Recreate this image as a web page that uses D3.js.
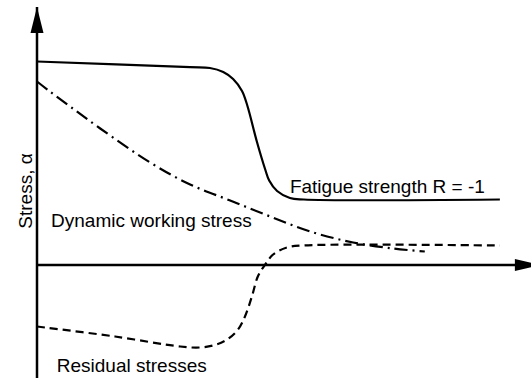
<!DOCTYPE html>
<html>
<head>
<meta charset="utf-8">
<script src="https://cdn.jsdelivr.net/npm/d3@7"></script>
<style>
  html, body { margin: 0; padding: 0; background: #fff; }
  svg { display: block; }
  text { font-family: "Liberation Sans", Arial, sans-serif; fill: #000; }
</style>
</head>
<body>
<div id="chart"></div>
<script>
// Schematic curves: position along the part (x) against stress (y), arbitrary units.
const fatigueStrength = [
  [0, 101.75], [31, 98.9], [35, 98.5], [37.7, 96.5], [39.7, 93],
  [41.5, 87], [42.6, 79.5], [44.5, 61.75], [46.2, 47.75], [47, 42.25],
  [48.6, 37], [51.2, 33.5], [54, 32.75], [93.7, 32.75]
];
const workingStress = [
  [0, 91.75], [2.6, 86.75], [6.7, 79.25], [12.8, 68.25], [22.9, 51.25],
  [31, 40.25], [39.1, 32.25], [47.2, 24.25], [55.3, 16.75], [64, 11.25],
  [72.1, 8.25], [78.5, 6.75]
];
const residualStress = [
  [0, -30.75], [15.8, -35.75], [29, -40.75], [33, -41.25], [36, -40],
  [38.5, -37.25], [40.7, -32.25], [42.1, -25.75], [43.5, -15.75], [44.7, -5.75],
  [46.2, 0.25], [47.8, 5.25], [50.6, 8.75], [54, 9.8], [93.7, 9.75]
];
const curveLabels = ["Fatigue strength R = -1", "Dynamic working stress", "Residual stresses"];
const yAxisLabel = "Stress, \u03b1";

const W = 531, H = 378;
const svg = d3.select("#chart").append("svg").attr("width", W).attr("height", H);

const x = d3.scaleLinear().domain([0, 100]).range([37, 531]);
const y = d3.scaleLinear().domain([-56.5, 129]).range([378, 7]);

// Axes as plain lines through the origin, with filled arrowheads
const xAxis = svg.append("g")
  .attr("transform", `translate(0,${y(0)})`)
  .call(d3.axisBottom(x).ticks(0).tickSize(0).tickSizeOuter(0).offset(0));
xAxis.select(".domain").attr("stroke", "#000").attr("stroke-width", 2.5);
xAxis.selectAll("text").remove();

const yAxis = svg.append("g")
  .attr("transform", `translate(${x(0)},0)`)
  .call(d3.axisLeft(y).ticks(0).tickSize(0).tickSizeOuter(0).offset(0));
yAxis.select(".domain").attr("stroke", "#000").attr("stroke-width", 2.5);
yAxis.selectAll("text").remove();

// y arrow
const ax = x(0), ayTip = y(129);
svg.append("path")
  .attr("d", `M${ax},${ayTip} L${ax - 6.5},${ayTip + 26} L${ax + 6.5},${ayTip + 26} Z`)
  .attr("fill", "#000");
// x arrow (tip runs past the right edge)
const axTipX = x(102), ay0 = y(0);
svg.append("path")
  .attr("d", `M${axTipX},${ay0} L${axTipX - 26},${ay0 - 6} L${axTipX - 26},${ay0 + 6} Z`)
  .attr("fill", "#000");

const line = d3.line()
  .x(d => x(d[0]))
  .y(d => y(d[1]))
  .curve(d3.curveCatmullRom.alpha(0.5));

svg.append("path").datum(fatigueStrength)
  .attr("d", line).attr("fill", "none")
  .attr("stroke", "#000").attr("stroke-width", 2.2);

svg.append("path").datum(workingStress)
  .attr("d", line).attr("fill", "none")
  .attr("stroke", "#000").attr("stroke-width", 2.2)
  .attr("stroke-dasharray", "13,5,2,5");

svg.append("path").datum(residualStress)
  .attr("d", line).attr("fill", "none")
  .attr("stroke", "#000").attr("stroke-width", 2.2)
  .attr("stroke-dasharray", "8,5");

// Curve labels
const labelPos = [[51.2, 36], [2.85, 19], [4, -53.5]];
svg.selectAll("text.curve-label")
  .data(curveLabels)
  .join("text")
  .attr("class", "curve-label")
  .attr("x", (d, i) => x(labelPos[i][0]))
  .attr("y", (d, i) => y(labelPos[i][1]))
  .attr("font-size", 19)
  .text(d => d);

// y-axis title
svg.append("text")
  .attr("transform", `translate(32,191) rotate(-90)`)
  .attr("text-anchor", "middle")
  .attr("font-size", 19)
  .text(yAxisLabel);
</script>
</body>
</html>
